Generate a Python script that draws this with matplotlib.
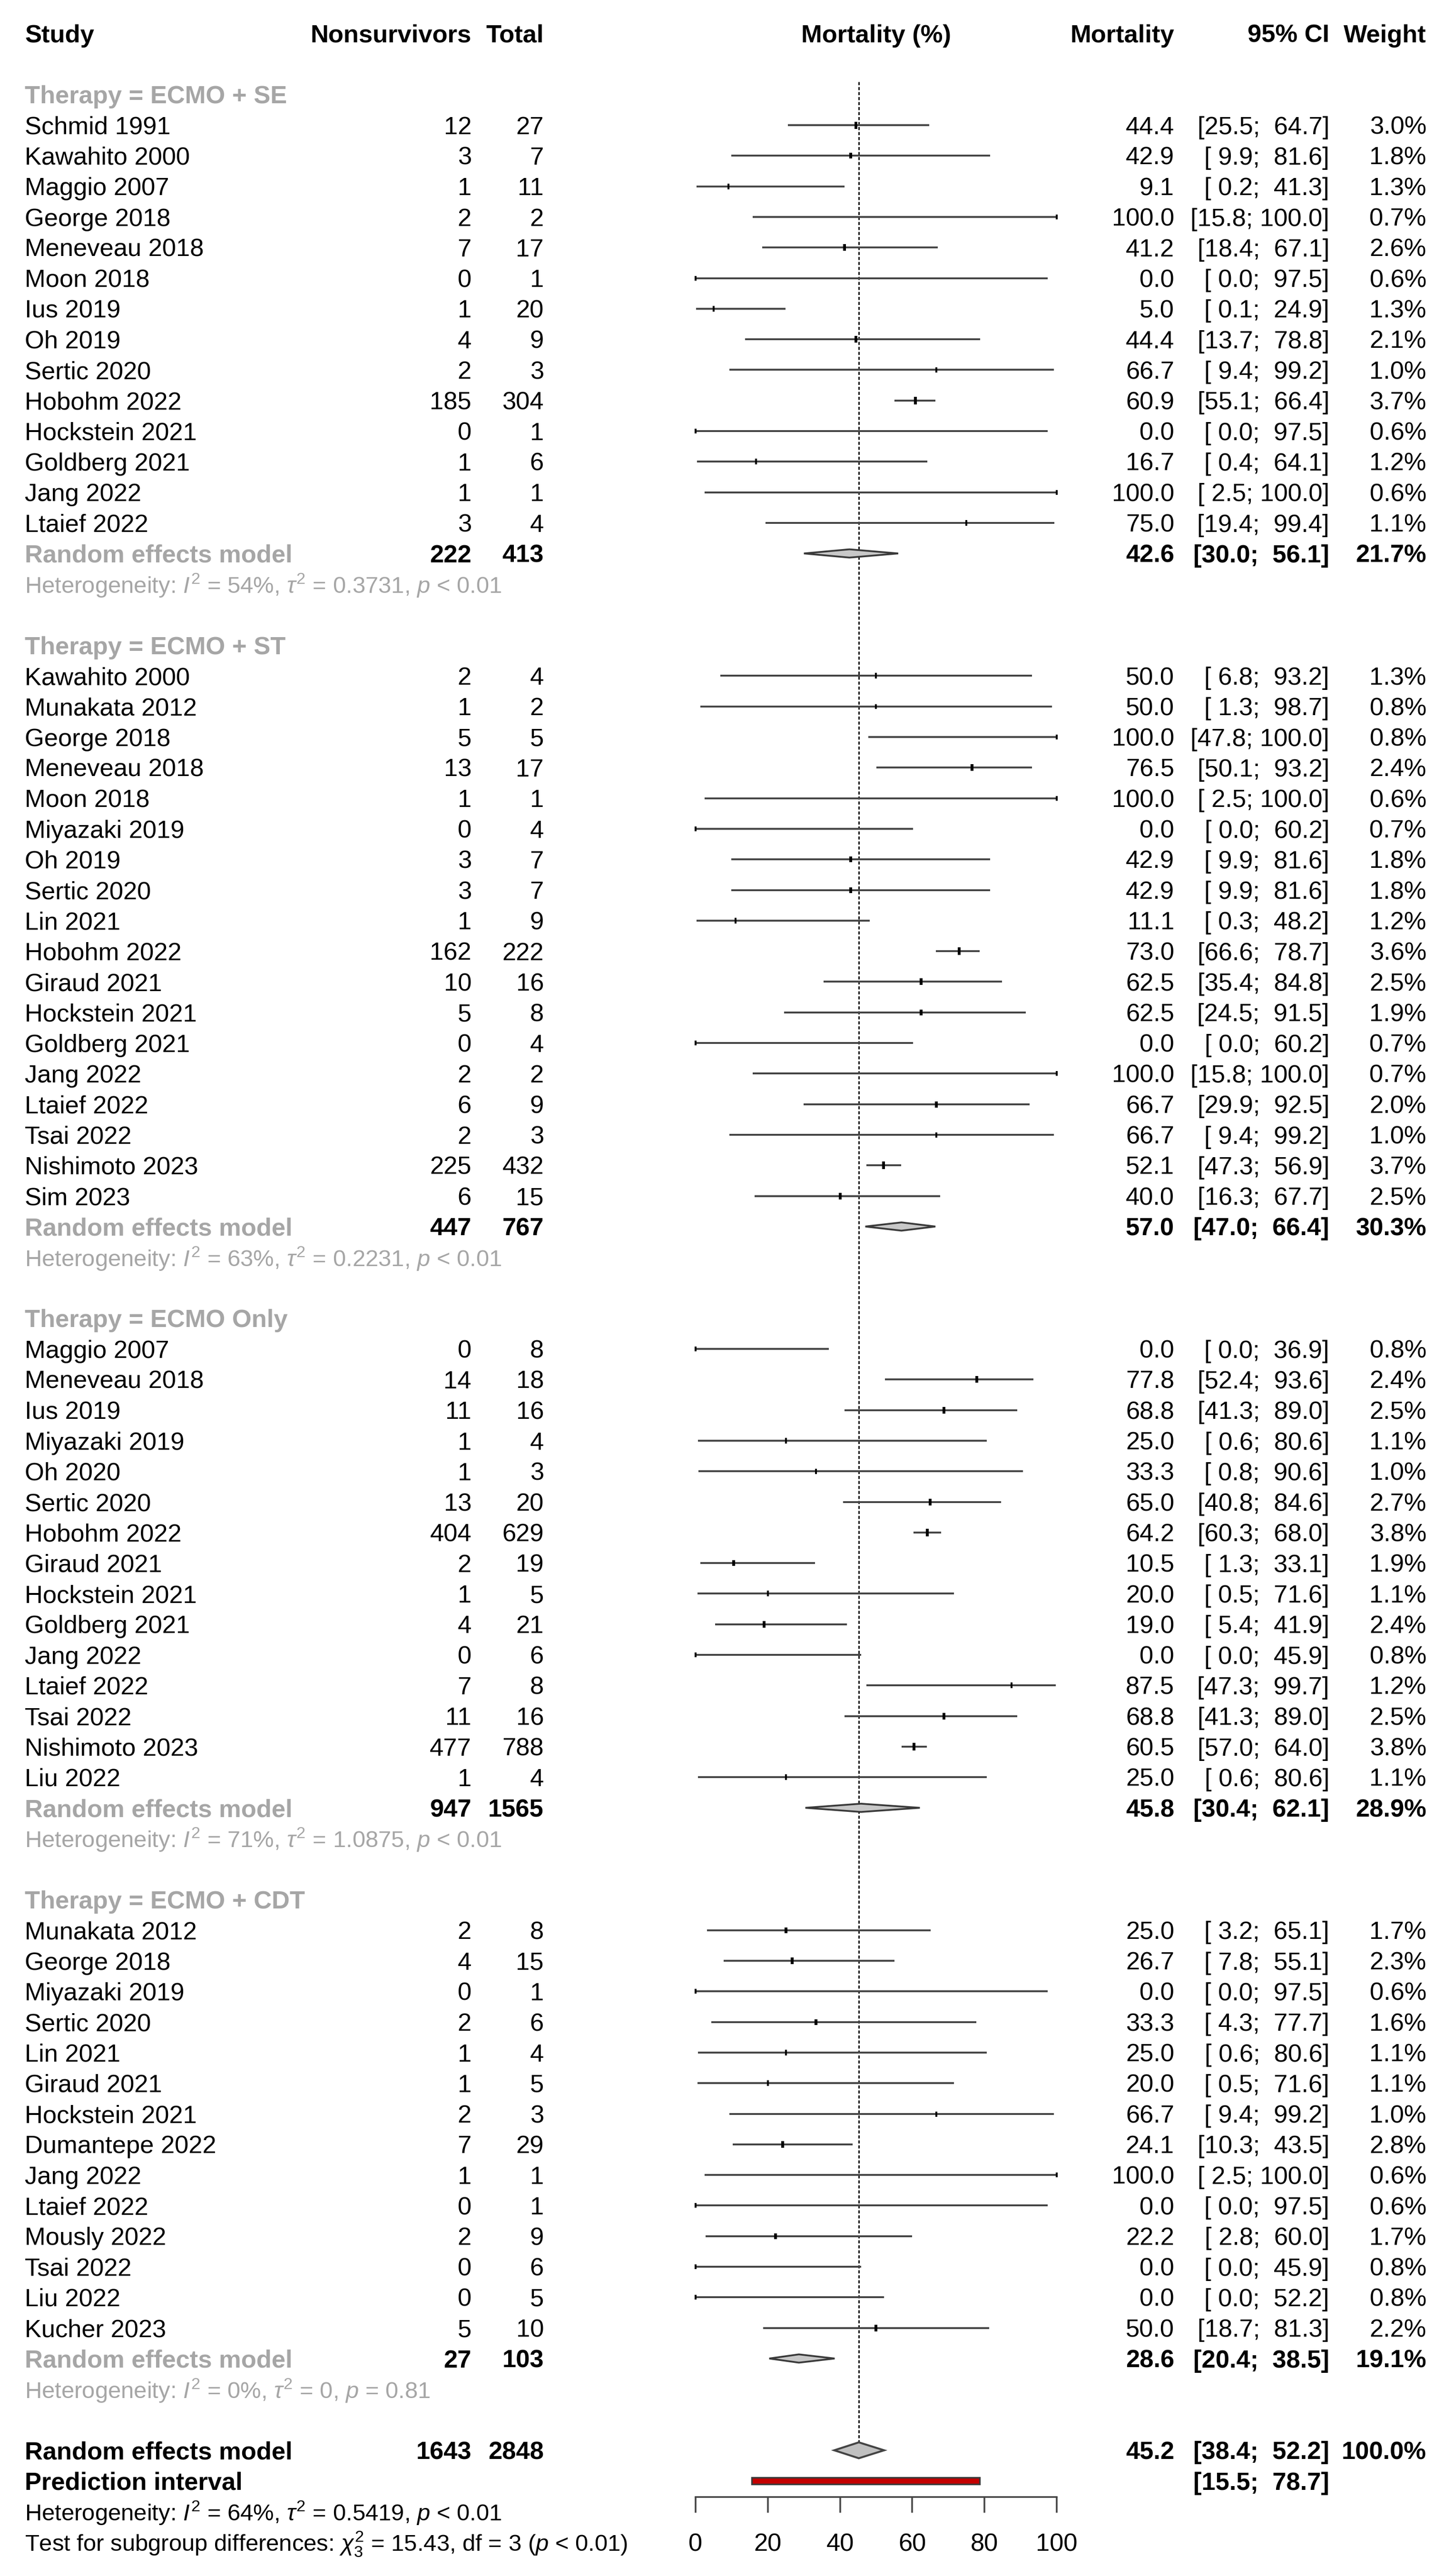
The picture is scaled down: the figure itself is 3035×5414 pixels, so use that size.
import matplotlib
matplotlib.use('Agg')
import matplotlib.pyplot as plt
from matplotlib.transforms import blended_transform_factory
from matplotlib.patches import Polygon, Rectangle

plt.rcParams['font.family'] = ['Liberation Sans', 'DejaVu Sans']
plt.rcParams['mathtext.fontset'] = 'custom'
plt.rcParams['mathtext.rm'] = 'Liberation Sans'
plt.rcParams['mathtext.it'] = 'Liberation Sans:italic'
plt.rcParams['mathtext.bf'] = 'Liberation Sans:bold'

# ---- data ----
group_labels = ['Therapy = ECMO + SE', 'Therapy = ECMO + ST',
                'Therapy = ECMO Only', 'Therapy = ECMO + CDT']

se_study = ['Schmid 1991', 'Kawahito 2000', 'Maggio 2007', 'George 2018', 'Meneveau 2018',
            'Moon 2018', 'Ius 2019', 'Oh 2019', 'Sertic 2020', 'Hobohm 2022',
            'Hockstein 2021', 'Goldberg 2021', 'Jang 2022', 'Ltaief 2022']
se_events = [12, 3, 1, 2, 7, 0, 1, 4, 2, 185, 0, 1, 1, 3]
se_total = [27, 7, 11, 2, 17, 1, 20, 9, 3, 304, 1, 6, 1, 4]
se_est = [44.4, 42.9, 9.1, 100.0, 41.2, 0.0, 5.0, 44.4, 66.7, 60.9, 0.0, 16.7, 100.0, 75.0]
se_lo = [25.5, 9.9, 0.2, 15.8, 18.4, 0.0, 0.1, 13.7, 9.4, 55.1, 0.0, 0.4, 2.5, 19.4]
se_hi = [64.7, 81.6, 41.3, 100.0, 67.1, 97.5, 24.9, 78.8, 99.2, 66.4, 97.5, 64.1, 100.0, 99.4]
se_w = [3.0, 1.8, 1.3, 0.7, 2.6, 0.6, 1.3, 2.1, 1.0, 3.7, 0.6, 1.2, 0.6, 1.1]

st_study = ['Kawahito 2000', 'Munakata 2012', 'George 2018', 'Meneveau 2018', 'Moon 2018',
            'Miyazaki 2019', 'Oh 2019', 'Sertic 2020', 'Lin 2021', 'Hobohm 2022',
            'Giraud 2021', 'Hockstein 2021', 'Goldberg 2021', 'Jang 2022', 'Ltaief 2022',
            'Tsai 2022', 'Nishimoto 2023', 'Sim 2023']
st_events = [2, 1, 5, 13, 1, 0, 3, 3, 1, 162, 10, 5, 0, 2, 6, 2, 225, 6]
st_total = [4, 2, 5, 17, 1, 4, 7, 7, 9, 222, 16, 8, 4, 2, 9, 3, 432, 15]
st_est = [50.0, 50.0, 100.0, 76.5, 100.0, 0.0, 42.9, 42.9, 11.1, 73.0,
          62.5, 62.5, 0.0, 100.0, 66.7, 66.7, 52.1, 40.0]
st_lo = [6.8, 1.3, 47.8, 50.1, 2.5, 0.0, 9.9, 9.9, 0.3, 66.6,
         35.4, 24.5, 0.0, 15.8, 29.9, 9.4, 47.3, 16.3]
st_hi = [93.2, 98.7, 100.0, 93.2, 100.0, 60.2, 81.6, 81.6, 48.2, 78.7,
         84.8, 91.5, 60.2, 100.0, 92.5, 99.2, 56.9, 67.7]
st_w = [1.3, 0.8, 0.8, 2.4, 0.6, 0.7, 1.8, 1.8, 1.2, 3.6, 2.5, 1.9, 0.7, 0.7, 2.0, 1.0, 3.7, 2.5]

on_study = ['Maggio 2007', 'Meneveau 2018', 'Ius 2019', 'Miyazaki 2019', 'Oh 2020',
            'Sertic 2020', 'Hobohm 2022', 'Giraud 2021', 'Hockstein 2021', 'Goldberg 2021',
            'Jang 2022', 'Ltaief 2022', 'Tsai 2022', 'Nishimoto 2023', 'Liu 2022']
on_events = [0, 14, 11, 1, 1, 13, 404, 2, 1, 4, 0, 7, 11, 477, 1]
on_total = [8, 18, 16, 4, 3, 20, 629, 19, 5, 21, 6, 8, 16, 788, 4]
on_est = [0.0, 77.8, 68.8, 25.0, 33.3, 65.0, 64.2, 10.5, 20.0, 19.0, 0.0, 87.5, 68.8, 60.5, 25.0]
on_lo = [0.0, 52.4, 41.3, 0.6, 0.8, 40.8, 60.3, 1.3, 0.5, 5.4, 0.0, 47.3, 41.3, 57.0, 0.6]
on_hi = [36.9, 93.6, 89.0, 80.6, 90.6, 84.6, 68.0, 33.1, 71.6, 41.9, 45.9, 99.7, 89.0, 64.0, 80.6]
on_w = [0.8, 2.4, 2.5, 1.1, 1.0, 2.7, 3.8, 1.9, 1.1, 2.4, 0.8, 1.2, 2.5, 3.8, 1.1]

cdt_study = ['Munakata 2012', 'George 2018', 'Miyazaki 2019', 'Sertic 2020', 'Lin 2021',
             'Giraud 2021', 'Hockstein 2021', 'Dumantepe 2022', 'Jang 2022', 'Ltaief 2022',
             'Mously 2022', 'Tsai 2022', 'Liu 2022', 'Kucher 2023']
cdt_events = [2, 4, 0, 2, 1, 1, 2, 7, 1, 0, 2, 0, 0, 5]
cdt_total = [8, 15, 1, 6, 4, 5, 3, 29, 1, 1, 9, 6, 5, 10]
cdt_est = [25.0, 26.7, 0.0, 33.3, 25.0, 20.0, 66.7, 24.1, 100.0, 0.0, 22.2, 0.0, 0.0, 50.0]
cdt_lo = [3.2, 7.8, 0.0, 4.3, 0.6, 0.5, 9.4, 10.3, 2.5, 0.0, 2.8, 0.0, 0.0, 18.7]
cdt_hi = [65.1, 55.1, 97.5, 77.7, 80.6, 71.6, 99.2, 43.5, 100.0, 97.5, 60.0, 45.9, 52.2, 81.3]
cdt_w = [1.7, 2.3, 0.6, 1.6, 1.1, 1.1, 1.0, 2.8, 0.6, 0.6, 1.7, 0.8, 0.8, 2.2]

# subgroup random effects summaries
sub_events = [222, 447, 947, 27]
sub_total = [413, 767, 1565, 103]
sub_est = [42.6, 57.0, 45.8, 28.6]
sub_lo = [30.0, 47.0, 30.4, 20.4]
sub_hi = [56.1, 66.4, 62.1, 38.5]
sub_w = [21.7, 30.3, 28.9, 19.1]
sub_i2 = ['54%', '63%', '71%', '0%']
sub_tau2 = ['0.3731', '0.2231', '1.0875', '0']
sub_p = ['$p$ < 0.01', '$p$ < 0.01', '$p$ < 0.01', '$p$ = 0.81']

# overall
ov_events, ov_total = 1643, 2848
ov_est, ov_lo, ov_hi, ov_w = 45.2, 38.4, 52.2, 100.0
pi_lo, pi_hi = 15.5, 78.7
ov_het = r'Heterogeneity: $I^2$ = 64%, $\tau^2$ = 0.5419, $p$ < 0.01'
subgroup_test = r'Test for subgroup differences: $\chi^2_3$ = 15.43, df = 3 ($p$ < 0.01)'
x_ticks = [0, 20, 40, 60, 80, 100]

groups = [
    (se_study, se_events, se_total, se_est, se_lo, se_hi, se_w),
    (st_study, st_events, st_total, st_est, st_lo, st_hi, st_w),
    (on_study, on_events, on_total, on_est, on_lo, on_hi, on_w),
    (cdt_study, cdt_events, cdt_total, cdt_est, cdt_lo, cdt_hi, cdt_w),
]

# ---- layout ----
W, H, DPI = 3036, 5414, 300
FS = 12.6
FS_HET = 11.75
GREY = '#a6a6a6'
LINE = '#454545'
ROW0, ROWH = 263, 64.3     # pixel y of first study row, row height
BASE = 0.29                # baseline offset (rows) so caps centre on the row

X_STUDY, X_EV, X_TOT = 52, 991, 1143
X_EST, X_CI, X_W = 2468, 2794, 2998
AX_L, AX_R = 1462, 2221

fig = plt.figure(figsize=(W / DPI, H / DPI), dpi=DPI)
ax = fig.add_axes([AX_L / W, 0, (AX_R - AX_L) / W, 1])
ax.set_xlim(0, 100)
ax.set_ylim((H - ROW0) / ROWH, -ROW0 / ROWH)
ax.patch.set_alpha(0)
for s in ['top', 'left', 'right']:
    ax.spines[s].set_visible(False)
ax.set_yticks([])

tr = blended_transform_factory(fig.transFigure, ax.transData)


def put(xpx, r, s, ha='right', color='black', bold=False, fs=FS):
    ax.text(xpx / W, r + BASE, s, transform=tr, ha=ha, va='baseline', fontsize=fs,
            color=color, fontweight='bold' if bold else 'normal')


def ci(lo, hi):
    return f'[{lo:4.1f}; {hi:5.1f}]'


rect = [(-0.42, -1), (0.42, -1), (0.42, 1), (-0.42, 1), (-0.42, -1)]

# header
hr = -3
put(X_STUDY, hr, 'Study', ha='left', bold=True)
put(X_EV, hr, 'Nonsurvivors', bold=True)
put(X_TOT, hr, 'Total', bold=True)
ax.text(50, hr + BASE, 'Mortality (%)', ha='center', va='baseline', fontsize=FS, fontweight='bold')
put(X_EST, hr, 'Mortality', bold=True)
put(X_CI, hr, '95% CI', bold=True)
put(X_W, hr, 'Weight', bold=True)

r = -1
for g, (study, ev, tot, est, lo, hi, w) in enumerate(groups):
    put(X_STUDY, r, group_labels[g], ha='left', color=GREY, bold=True)
    r += 1
    for i in range(len(study)):
        put(X_STUDY, r, study[i], ha='left')
        put(X_EV, r, str(ev[i]))
        put(X_TOT, r, str(tot[i]))
        put(X_EST, r, f'{est[i]:.1f}')
        put(X_CI, r, ci(lo[i], hi[i]))
        put(X_W, r, f'{w[i]:.1f}%')
        ax.plot([lo[i], hi[i]], [r, r], color=LINE, lw=0.95, solid_capstyle='butt', clip_on=False)
        hpx = 9 + 2.0 * w[i]
        ax.plot(est[i], r, marker=rect, ms=hpx * 72 / DPI, color='black', mew=0, clip_on=False)
        r += 1
    # subgroup summary
    put(X_STUDY, r, 'Random effects model', ha='left', color=GREY, bold=True)
    put(X_EV, r, str(sub_events[g]), bold=True)
    put(X_TOT, r, str(sub_total[g]), bold=True)
    put(X_EST, r, f'{sub_est[g]:.1f}', bold=True)
    put(X_CI, r, ci(sub_lo[g], sub_hi[g]), bold=True)
    put(X_W, r, f'{sub_w[g]:.1f}%', bold=True)
    hh = 0.135
    ax.add_patch(Polygon([(sub_lo[g], r), (sub_est[g], r - hh), (sub_hi[g], r), (sub_est[g], r + hh)],
                         closed=True, facecolor='#c8c8c8', edgecolor='#3a3a3a', lw=0.9))
    r += 1
    put(X_STUDY, r, 'Heterogeneity: $I^2$ = ' + sub_i2[g] + r', $\tau^2$ = ' + sub_tau2[g] + ', ' + sub_p[g],
        ha='left', color=GREY, fs=FS_HET)
    r += 2

# overall
put(X_STUDY, r, 'Random effects model', ha='left', bold=True)
put(X_EV, r, str(ov_events), bold=True)
put(X_TOT, r, str(ov_total), bold=True)
put(X_EST, r, f'{ov_est:.1f}', bold=True)
put(X_CI, r, ci(ov_lo, ov_hi), bold=True)
put(X_W, r, f'{ov_w:.1f}%', bold=True)
hh = 0.26
ax.add_patch(Polygon([(ov_lo, r), (ov_est, r - hh), (ov_hi, r), (ov_est, r + hh)],
                     closed=True, facecolor='#c0c0c0', edgecolor='#444444', lw=1.0))
ov_row = r
ax.plot([ov_est, ov_est], [-1.42, ov_row - hh], color='black', lw=0.7,
        dashes=(2.2, 1.4), zorder=0)

r += 1
put(X_STUDY, r, 'Prediction interval', ha='left', bold=True)
put(X_CI, r, ci(pi_lo, pi_hi), bold=True)
ph = 0.11
ax.add_patch(Rectangle((pi_lo, r - ph), pi_hi - pi_lo, 2 * ph,
                       facecolor='#c40000', edgecolor='#3a3a3a', lw=0.8))

# x axis
axis_row = r + 0.53
ax.spines['bottom'].set_position(('data', axis_row))
ax.spines['bottom'].set_bounds(0, 100)
ax.spines['bottom'].set_color(LINE)
ax.spines['bottom'].set_linewidth(0.85)
ax.set_xticks(x_ticks)
ax.tick_params(axis='x', direction='out', length=7.9, width=0.85, color=LINE,
               labelbottom=False)

r += 1
put(X_STUDY, r, ov_het, ha='left', fs=FS_HET)
r += 1
put(X_STUDY, r, subgroup_test, ha='left', fs=FS_HET)
for t in x_ticks:
    ax.text(t, r + BASE, str(t), ha='center', va='baseline', fontsize=FS)

fig.savefig('out.png', dpi=DPI, facecolor='white')
